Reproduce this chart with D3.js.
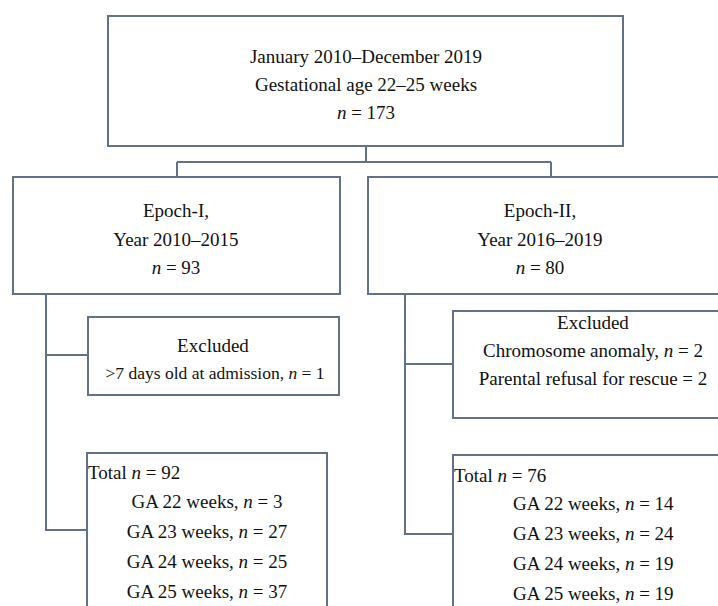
<!DOCTYPE html>
<html>
<head>
<meta charset="utf-8">
<script src="https://cdn.jsdelivr.net/npm/d3@7"></script>
<style>
  body { margin: 0; background: #fff; }
  svg text { font-family: "Liberation Serif", "DejaVu Serif", serif; fill: #111; }
</style>
</head>
<body>
<div id="chart"></div>
<script>
// text of each node, {n} marks the italic n
const topLines = ["January 2010\u2013December 2019", "Gestational age 22\u201325 weeks", "{n} = 173"];
const epochILines = ["Epoch-I,", "Year 2010\u20132015", "{n} = 93"];
const epochIILines = ["Epoch-II,", "Year 2016\u20132019", "{n} = 80"];
const exclILines = ["Excluded", ">7 days old at admission, {n} = 1"];
const exclIILines = ["Excluded", "Chromosome anomaly, {n} = 2", "Parental refusal for rescue = 2"];
const totals = [92, 76];
const gaWeeks = [22, 23, 24, 25];
const gaEpochI = [3, 27, 25, 37];
const gaEpochII = [14, 24, 19, 19];

const W = 718, H = 606;
const lineCol = "#627088";

const svg = d3.select("#chart").append("svg")
  .attr("width", W).attr("height", H);

// boxes: x, y, w, h
const boxes = [
  [108, 16, 515, 130],
  [13, 177, 327, 117],
  [368, 177, 360, 117],
  [88, 317, 251, 78],
  [453, 311, 280, 107],
  [87, 453, 240, 170],
  [453, 455, 280, 170]
];
svg.selectAll("rect.box").data(boxes).enter().append("rect")
  .attr("class", "box")
  .attr("x", d => d[0]).attr("y", d => d[1])
  .attr("width", d => d[2]).attr("height", d => d[3])
  .attr("fill", "none").attr("stroke", lineCol).attr("stroke-width", 2);

// connectors
const links = [
  [[366, 146], [366, 162]],
  [[177, 162], [551, 162]],
  [[177, 162], [177, 177]],
  [[551, 162], [551, 177]],
  [[46, 294], [46, 530], [87, 530]],
  [[46, 355], [88, 355]],
  [[405, 294], [405, 534], [453, 534]],
  [[405, 364], [453, 364]]
];
svg.selectAll("path.link").data(links).enter().append("path")
  .attr("class", "link")
  .attr("d", d3.line())
  .attr("fill", "none").attr("stroke", lineCol).attr("stroke-width", 2);

const fs = 19;

function addText(str, x, y, anchor, size) {
  const t = svg.append("text")
    .attr("x", x).attr("y", y)
    .attr("text-anchor", anchor || "middle")
    .attr("dominant-baseline", "central")
    .style("font-size", (size || fs) + "px");
  str.split(/(\{n\})/).filter(s => s.length).forEach(s => {
    if (s === "{n}") t.append("tspan").style("font-style", "italic").text("n");
    else t.append("tspan").text(s);
  });
  return t;
}

topLines.forEach((s, i) => addText(s, 366, 56 + i * 28));
epochILines.forEach((s, i) => addText(s, 176, 210 + i * 28.5));
epochIILines.forEach((s, i) => addText(s, 540, 210 + i * 28.5));
addText(exclILines[0], 213, 345);
addText(exclILines[1], 215, 373, "middle", 17.5);
exclIILines.forEach((s, i) => addText(s, 593, 322 + i * 28));

addText("Total {n} = " + totals[0], 88, 472, "start");
addText("Total {n} = " + totals[1], 454, 475, "start");
gaWeeks.forEach((w, i) => {
  addText("GA " + w + " weeks, {n} = " + gaEpochI[i], 207, 501 + i * 30);
  addText("GA " + w + " weeks, {n} = " + gaEpochII[i], 513, 503 + i * 30, "start");
});
</script>
</body>
</html>
